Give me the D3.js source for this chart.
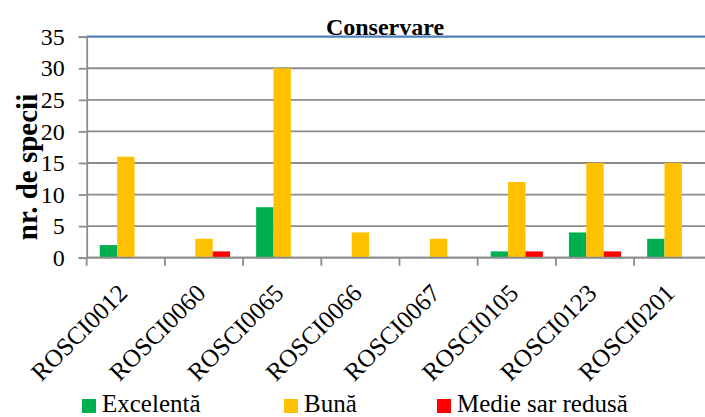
<!DOCTYPE html>
<html><head><meta charset="utf-8">
<script src="https://cdn.jsdelivr.net/npm/d3@7"></script>
<style>
html,body{margin:0;padding:0;background:#fff;}
svg{display:block;}
svg text{font-family:"Liberation Serif","Times New Roman",serif !important;}
</style></head>
<body>
<svg id="chart" width="705" height="417"></svg>
<script>
const categories = ["ROSCI0012","ROSCI0060","ROSCI0065","ROSCI0066","ROSCI0067","ROSCI0105","ROSCI0123","ROSCI0201"];
const seriesNames = ["Excelentă","Bună","Medie sar redusă"];
const seriesColors = ["#00b050","#ffc000","#ff0000"];
const excelenta = [2,0,8,0,0,1,4,3];
const buna = [16,3,30,4,3,12,15,15];
const medie = [0,1,0,0,0,1,1,0];
const yTicks = [0,5,10,15,20,25,30,35];
const title = "Conservare";
const yTitle = "nr. de specii";

const seriesValues = [excelenta, buna, medie];
const svg = d3.select("#chart");
const FF = "'Liberation Serif','Times New Roman',serif";

const x = d3.scaleBand().domain(categories).range([86.7, 712.3]).padding(0);
const bw = x.bandwidth();
const xs = d3.scaleBand().domain(seriesNames).range([bw/6, bw*5/6]).padding(0);
const y = d3.scaleLinear().domain([0,35]).range([257.7, 36.7]);

// gridlines
svg.append("g").selectAll("line").data(yTicks).join("line")
  .attr("x1", x.range()[0]).attr("x2", x.range()[1])
  .attr("y1", d=>y(d)).attr("y2", d=>y(d))
  .attr("stroke", d=> d===35 ? "#4f81bd" : "#8c8c8c")
  .attr("stroke-width", d=> d===35 ? 2.2 : 1.8);

// y axis
const yAxis = d3.axisLeft(y).tickValues(yTicks).tickSize(8).tickPadding(14);
const gy = svg.append("g").attr("transform", `translate(${x.range()[0]},0)`).call(yAxis);
gy.attr("font-family", null).attr("font-size", null);
gy.select(".domain").attr("stroke","#8c8c8c").attr("stroke-width",1.8);
gy.selectAll(".tick line").attr("stroke","#8c8c8c").attr("stroke-width",1.8);
gy.selectAll(".tick text").style("font-size","24px").attr("fill","#000")
  .style("font-family", FF);

// bars
seriesNames.forEach((s, si) => {
  svg.append("g").selectAll("rect").data(categories).join("rect")
    .attr("x", c => x(c) + xs(s))
    .attr("width", xs.bandwidth())
    .attr("y", (c,i) => y(seriesValues[si][i]))
    .attr("height", (c,i) => y(0) - y(seriesValues[si][i]))
    .attr("fill", seriesColors[si]);
});

// x axis
const gx = svg.append("g").attr("transform", `translate(0,${y(0)})`);
gx.append("line").attr("x1", x.range()[0]).attr("x2", x.range()[1])
  .attr("stroke","#8c8c8c").attr("stroke-width",1.8);
const bounds = categories.map(c => x(c)).concat([x.range()[1]]);
gx.selectAll("line.tk").data(bounds).join("line").attr("class","tk")
  .attr("x1", d=>d).attr("x2", d=>d).attr("y1",0).attr("y2",8)
  .attr("stroke","#8c8c8c").attr("stroke-width",1.8);
gx.selectAll("text").data(categories).join("text")
  .attr("transform", c => `translate(${x(c)+bw/2+3},${37}) rotate(-45)`)
  .attr("text-anchor","end")
  .style("font-size","25px").style("font-family", FF)
  .text(c=>c);

// title
svg.append("text").attr("x",385).attr("y",35).attr("text-anchor","middle")
  .style("font-size","24px").style("font-family", FF).attr("font-weight","bold").text(title);

// y title
svg.append("text").attr("transform","translate(37,167) rotate(-90)")
  .attr("text-anchor","middle").style("font-size","29px").style("font-family", FF)
  .attr("font-weight","bold").text(yTitle);

// legend
const legX = [82, 284, 437];
const lg = svg.append("g").selectAll("g").data(seriesNames).join("g")
  .attr("transform",(d,i)=>`translate(${legX[i]},399)`);
lg.append("rect").attr("width",14).attr("height",14).attr("fill",(d,i)=>seriesColors[i]);
lg.append("text").attr("x",20).attr("y",13).style("font-size","25px").style("font-family", FF).text(d=>d);
</script>
</body></html>
